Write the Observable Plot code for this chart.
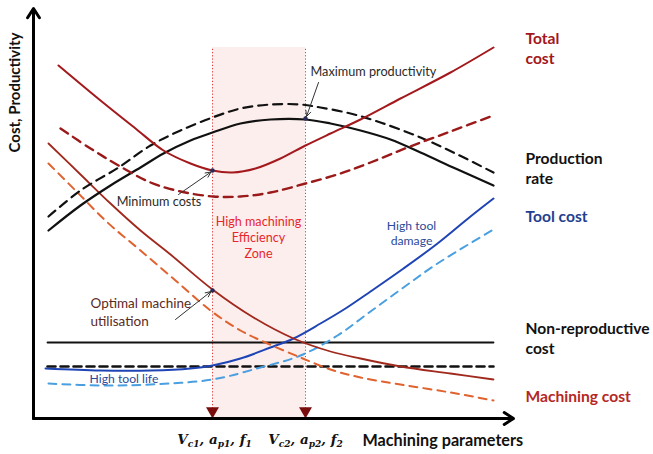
<!DOCTYPE html>
<html>
<head>
<meta charset="utf-8">
<script src="https://cdn.jsdelivr.net/npm/d3@7"></script>
<script src="https://cdn.jsdelivr.net/npm/@observablehq/plot@0.6"></script>
<style>
  html, body { margin: 0; padding: 0; background: #fff; }
  #chart svg { display: block; }
</style>
</head>
<body>
<div id="chart"></div>
<script>
// Machining parameter (x) and cost / productivity (y), arbitrary units
const totalCostX   = [5, 13.4, 20.4, 26, 31.4, 35.8, 39.8, 44.4, 49.4, 54.4, 59.4, 65.4, 73.4, 83.4, 92];
const totalCostY   = [70.6, 63.6, 58, 53.6, 51, 49.6, 49.2, 50, 52, 54.6, 57, 59.8, 64, 69.2, 74.2];
const totalCost2X  = [5.4, 11.4, 17, 23.4, 29.4, 36, 41.4, 47.4, 54.4, 61.4, 67.4, 74.8, 83.4, 92];
const totalCost2Y  = [58, 54, 50.6, 47.2, 45.4, 44.4, 44.4, 45.2, 47, 49, 51.2, 54.2, 57.4, 60.6];
const prodRateX    = [3, 9.4, 15.4, 21.4, 26, 31.4, 35.8, 41.4, 47.4, 54.4, 59.4, 65.4, 71.4, 77.4, 84.4, 92];
const prodRateY    = [37.6, 42.6, 46.6, 50.2, 53, 55.6, 57.2, 59, 59.8, 59.8, 59, 57.6, 55.8, 53.2, 50, 46.6];
const prodRate2X   = [3, 9.4, 17, 23.4, 29.4, 35.8, 41.4, 47.4, 53.4, 57.4, 63.4, 69.4, 77.4, 84.4, 92];
const prodRate2Y   = [40.4, 45.6, 50.2, 54.6, 57.6, 60.2, 62, 62.8, 62.8, 62.2, 61, 59.2, 56.2, 53, 49.2];
const machCostX    = [3, 9.4, 15.4, 21.4, 27.4, 35.8, 44, 52, 59.4, 65.4, 73.4, 83.4, 92];
const machCostY    = [55, 48.8, 43, 37.6, 32.8, 25.8, 20.2, 16, 13.4, 12, 10.4, 9, 7.8];
const machCost2X   = [3, 8.4, 14.8, 21.4, 28.4, 35.4, 41.4, 46.8, 53.4, 59.4, 65.4, 73.4, 83.4, 92];
const machCost2Y   = [51, 45.6, 39.2, 33.6, 27.6, 21.6, 17.6, 15, 12.2, 9.8, 8.2, 6.8, 5.2, 3.6];
const toolCostX    = [2.4, 13.4, 23.4, 31.4, 35.8, 41.4, 47.4, 52, 57.4, 62.4, 67.4, 74, 80.8, 87.4, 92];
const toolCostY    = [10, 9.6, 9.6, 10, 10.6, 12, 14.2, 16, 19, 22, 25.4, 30, 35, 40.4, 44];
const toolCost2X   = [3, 13.4, 23.4, 35.8, 45.4, 53.4, 60.8, 67.4, 74, 80.8, 92];
const toolCost2Y   = [7, 6.6, 6.8, 7.8, 10.2, 12.6, 16.6, 21.4, 26.2, 31, 37.8];
const nonRepX      = [2.8, 92];
const nonRepY      = [15.2, 15.2];
const nonRep2Y     = [10.4, 10.4];

// Zone boundaries (machining parameter values)
const zoneX = [35.8, 54.4];
const zoneTop = 74.2;
const paramLabels = ["V_c1, a_p1, f_1", "V_c2, a_p2, f_2"];
const paramLabelX = [36.2, 54.4];

// Highlighted points
const keyPointX = [35.8, 54.4, 35.8];
const keyPointY = [49.6, 60, 25.6];

// Series labels on the right
const seriesLabels = ["Total\ncost", "Production\nrate", "Tool cost", "Non-reproductive\ncost", "Machining cost"];
const seriesLabelY = [74.2, 50.2, 40.6, 16.2, 4.6];
const seriesLabelColors = ["#a3161c", "#111111", "#1f3f8f", "#111111", "#b5281f"];

// Annotations
const notes = [
  {text: "Maximum productivity", x: 55.4, y: 69.6, anchor: "start", color: "#2a2a2a", size: 12.7},
  {text: "Minimum costs", x: 25.1, y: 43.6, anchor: "middle", color: "#2a2a2a", size: 12.7},
  {text: "High machining\nEfficiency\nZone", x: 45, y: 36.4, anchor: "middle", color: "#e8262b", size: 12.6},
  {text: "High tool\ndamage", x: 75.6, y: 37.2, anchor: "middle", color: "#2b4a9a", size: 12.2},
  {text: "Optimal machine\nutilisation", x: 11.4, y: 21.4, anchor: "start", color: "#5b2a1e", size: 13.5},
  {text: "High tool life", x: 11.2, y: 8.2, anchor: "start", color: "#2b4a9a", size: 12.2}
];
const noteArrows = [
  {x1: 57, y1: 67.2, x2: 54.6, y2: 60.4},
  {x1: 29, y1: 44.8, x2: 35.5, y2: 49.3},
  {x1: 28.4, y1: 19.8, x2: 35.5, y2: 25.4}
];

const pts = (xs, ys) => xs.map((x, i) => ({x, y: ys[i]}));
const font = "Lato, 'Open Sans', sans-serif";

const lineOpts = {x: "x", y: "y", curve: "catmull-rom"};

const plot = Plot.plot({
  width: 653,
  height: 454,
  marginLeft: 33,
  marginRight: 140,
  marginTop: 8,
  marginBottom: 36,
  x: {domain: [0, 96], axis: null},
  y: {domain: [0, 82], axis: null},
  style: {fontFamily: font, background: "#fff", overflow: "visible"},
  marks: [
    Plot.rect([0], {x1: zoneX[0], x2: zoneX[1], y1: 0, y2: zoneTop, fill: "#fdeeee"}),
    Plot.ruleX(zoneX, {y1: 0, y2: zoneTop, stroke: "#e03a3a", strokeWidth: 1, strokeDasharray: "1.2,2"}),
    // non-reproductive cost
    Plot.line(pts(nonRepX, nonRepY), {x: "x", y: "y", stroke: "#111", strokeWidth: 1.8}),
    Plot.line(pts(nonRepX, nonRep2Y), {x: "x", y: "y", stroke: "#111", strokeWidth: 2.6, strokeDasharray: "8,5"}),
    // tool cost
    Plot.line(pts(toolCost2X, toolCost2Y), {...lineOpts, stroke: "#4a9fe0", strokeWidth: 2, strokeDasharray: "8,6"}),
    Plot.line(pts(toolCostX, toolCostY), {...lineOpts, stroke: "#1f44b4", strokeWidth: 2}),
    // machining cost
    Plot.line(pts(machCost2X, machCost2Y), {...lineOpts, stroke: "#e0622e", strokeWidth: 2, strokeDasharray: "8,6"}),
    Plot.line(pts(machCostX, machCostY), {...lineOpts, stroke: "#a0281c", strokeWidth: 1.8}),
    // production rate
    Plot.line(pts(prodRate2X, prodRate2Y), {...lineOpts, stroke: "#111", strokeWidth: 2.2, strokeDasharray: "9,6"}),
    Plot.line(pts(prodRateX, prodRateY), {...lineOpts, stroke: "#111", strokeWidth: 2.2}),
    // total cost
    Plot.line(pts(totalCost2X, totalCost2Y), {...lineOpts, stroke: "#9a1a1a", strokeWidth: 2.4, strokeDasharray: "9,6"}),
    Plot.line(pts(totalCostX, totalCostY), {...lineOpts, stroke: "#a3191c", strokeWidth: 2}),
    // key points
    Plot.dot(pts(keyPointX, keyPointY), {x: "x", y: "y", r: 2.2, fill: "#2a2a5a"}),
    // annotation arrows
    Plot.arrow(noteArrows, {x1: "x1", y1: "y1", x2: "x2", y2: "y2", stroke: "#333", strokeWidth: 1, headLength: 9, headAngle: 50}),
    // annotations
    ...notes.map(n => Plot.text([n], {x: "x", y: "y", text: "text", textAnchor: n.anchor, fill: n.color, fontSize: n.size, lineHeight: 1.28})),
    // zone arrows on the x axis
    Plot.dot(zoneX, {x: d => d, y: 1.5, symbol: "triangle", rotate: 180, r: 4.8, fill: "#7b0c0c"}),
    // axes
    Plot.arrow([{x1: 0, y1: 0, x2: 0, y2: 82}], {x1: "x1", y1: "y1", x2: "x2", y2: "y2", stroke: "#000", strokeWidth: 3, headLength: 5.5, headAngle: 65}),
    Plot.arrow([{x1: 0, y1: 0, x2: 96, y2: 0}], {x1: "x1", y1: "y1", x2: "x2", y2: "y2", stroke: "#000", strokeWidth: 3, headLength: 5.5, headAngle: 65}),
    // axis titles
    Plot.text(["Cost, Productivity"], {x: -3.6, y: 65.2, text: d => d, rotate: -90, fontSize: 15, fontWeight: "bold", fill: "#111"}),
    Plot.text(["Machining parameters"], {x: 65.8, y: -4.4, text: d => d, textAnchor: "start", fontSize: 16.2, fontWeight: "bold", fill: "#111"}),
    Plot.text(paramLabels, {x: (d, i) => paramLabelX[i], y: -4.2, text: d => d, className: "param-label", fontSize: 13.5, fontWeight: "bold", fontStyle: "italic", fontFamily: "'DejaVu Serif', serif", fill: "#111"}),
    // series labels
    Plot.text(seriesLabels, {x: 98.4, y: (d, i) => seriesLabelY[i], text: d => d, textAnchor: "start", fill: (d, i) => seriesLabelColors[i], fontSize: 15.6, fontWeight: "bold", lineHeight: 1.3})
  ]
});

// Render subscripts in the parameter labels as real text
d3.select(plot).selectAll("g.param-label text").each(function () {
  const s = this.textContent;
  const parts = s.split(/_([a-z0-9]+)/);
  const el = d3.select(this);
  el.text(null);
  let shifted = false;
  parts.forEach((p, i) => {
    if (!p) return;
    const t = el.append("tspan").text(p);
    if (i % 2 === 1) {
      t.attr("font-size", "9px").attr("dy", shifted ? 0 : 3.5);
      shifted = true;
    } else if (shifted) {
      t.attr("dy", -3.5);
      shifted = false;
    }
  });
});

document.getElementById("chart").append(plot);
</script>
</body>
</html>
